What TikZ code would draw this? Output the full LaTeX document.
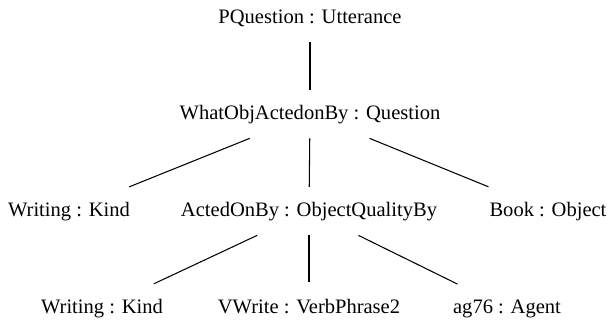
\documentclass[tikz,border=0pt]{standalone}
\usepackage{fontspec}
\setmainfont{Liberation Serif}
\usetikzlibrary{calc}
\tikzset{
    lbl/.style={anchor=base, inner sep=0pt, font=\fontsize{14.6}{17}\selectfont},
    edge/.style={line width=0.75pt, black}
}
\begin{document}
\begin{tikzpicture}[x=0.025cm, y=-0.025cm]
    % 1. Khung hiển thị
    \useasboundingbox (0, 0) rectangle (607, 323);

    % 2. Các nút của cây
    \node[lbl] (pq) at (310, 23) {PQuestion : Utterance};
    \node[lbl] (wq) at (310, 119) {WhatObjActedonBy : Question};
    \node[lbl] (wk1) at (69, 216) {Writing : Kind};
    \node[lbl] (ao) at (309, 216) {ActedOnBy : ObjectQualityBy};
    \node[lbl] (bo) at (548, 216) {Book : Object};
    \node[lbl] (wk2) at (102, 313) {Writing : Kind};
    \node[lbl] (vw) at (309, 313) {VWrite : VerbPhrase2};
    \node[lbl] (ag) at (507, 313) {ag76 : Agent};

    % 3. Các cạnh nối
    \foreach \a/\b in {pq/wq, wq/wk1, wq/ao, wq/bo, ao/wk2, ao/vw, ao/ag}
        \draw[edge] ($(\a)!0.25!(\b)$) -- ($(\a)!0.75!(\b)$);
\end{tikzpicture}
\end{document}
